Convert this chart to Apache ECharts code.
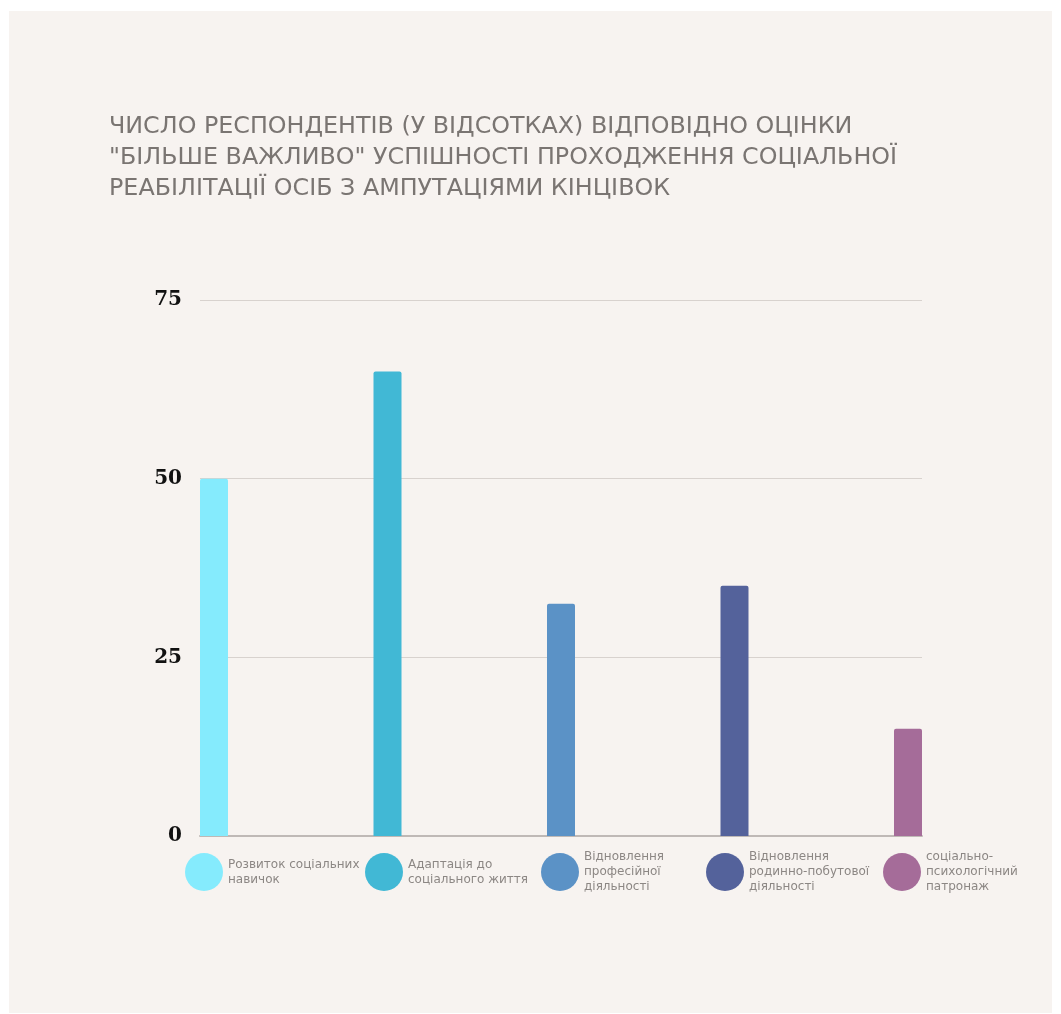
<!DOCTYPE html>
<html>
<head>
<meta charset="utf-8">
<script src="https://cdn.jsdelivr.net/npm/echarts@6/dist/echarts.min.js"></script>
<style>
  html, body { margin: 0; padding: 0; background: #ffffff; }
  #panel { position: absolute; left: 9px; top: 11px; width: 1043px; height: 1002px; background: #f7f3f0; }
  #chart { position: absolute; left: 0; top: 0; width: 1061px; height: 1014px; }
</style>
</head>
<body>
<div id="panel"></div>
<div id="chart"></div>
<script>
// Survey categories (series names shown in the legend)
const categories = [
  'Розвиток соціальних навичок',
  'Адаптація до соціального життя',
  'Відновлення професійної діяльності',
  'Відновлення родинно-побутової діяльності',
  'соціально-психологічний патронаж'
];
// Legend text, broken into lines
const legendLabels = [
  'Розвиток соціальних\nнавичок',
  'Адаптація до\nсоціального життя',
  'Відновлення\nпрофесійної\nдіяльності',
  'Відновлення\nродинно-побутової\nдіяльності',
  'соціально-\nпсихологічний\nпатронаж'
];
// Share of respondents, %
const values = [50, 65, 32.5, 35, 15];
const colors = ['#85ebfd', '#41b8d5', '#5b92c6', '#54629b', '#a56c99'];
const yTicks = [0, 25, 50, 75];
const titleText = 'ЧИСЛО РЕСПОНДЕНТІВ (У ВІДСОТКАХ) ВІДПОВІДНО ОЦІНКИ\n"БІЛЬШЕ ВАЖЛИВО" УСПІШНОСТІ ПРОХОДЖЕННЯ СОЦІАЛЬНОЇ\nРЕАБІЛІТАЦІЇ ОСІБ З АМПУТАЦІЯМИ КІНЦІВОК';

const legendLeft = [185, 365, 541, 706, 883];
const iconSize = 38;
const legendLineHeight = 15;
const legendCenterY = 872;

const chart = echarts.init(document.getElementById('chart'));
chart.setOption({
  backgroundColor: 'transparent',
  animation: false,
  title: {
    text: titleText,
    left: 104,
    top: 106,
    textStyle: {
      fontFamily: 'DejaVu Sans',
      fontWeight: 'normal',
      fontSize: 23.8,
      lineHeight: 31,
      color: '#7a7572'
    }
  },
  legend: categories.map((name, i) => {
    const lines = legendLabels[i].split('\n').length;
    const h = Math.max(iconSize, lines * legendLineHeight);
    return {
      data: [name],
      left: legendLeft[i],
      top: legendCenterY - h / 2,
      padding: 0,
      icon: 'circle',
      itemWidth: iconSize,
      itemHeight: iconSize,
      formatter: () => legendLabels[i],
      textStyle: {
        fontFamily: 'DejaVu Sans',
        fontSize: 12,
        lineHeight: legendLineHeight,
        color: '#8c8784'
      }
    };
  }),
  grid: { left: 200, right: 139, top: 300, bottom: 178 },
  xAxis: {
    type: 'value',
    min: -0.0807,
    max: 4.0807,
    axisLine: { show: true, lineStyle: { color: '#bfb9b6', width: 2 } },
    axisTick: { show: false },
    axisLabel: { show: false },
    splitLine: { show: false }
  },
  yAxis: {
    type: 'value',
    min: yTicks[0],
    max: yTicks[yTicks.length - 1],
    interval: 25,
    axisLine: { show: false },
    axisTick: { show: false },
    axisLabel: {
      margin: 18,
      fontFamily: 'DejaVu Serif',
      fontWeight: 'bold',
      fontSize: 20,
      color: '#111111'
    },
    splitLine: { lineStyle: { color: '#d8d2ce', width: 1 } }
  },
  series: categories.map((name, i) => ({
    name: name,
    type: 'bar',
    barWidth: 28,
    barGap: '-100%',
    itemStyle: { color: colors[i], borderRadius: [2, 2, 0, 0] },
    data: [[i, values[i]]]
  }))
});
</script>
</body>
</html>
